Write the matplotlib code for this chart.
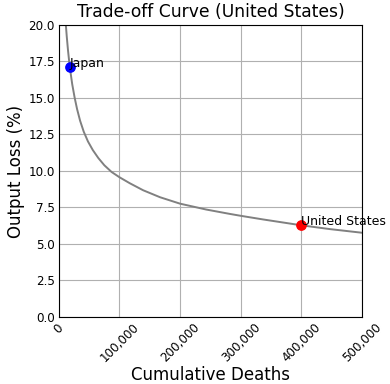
import matplotlib
matplotlib.use("Agg")
import matplotlib.pyplot as plt
import matplotlib.ticker as mticker

# trade-off curve: cumulative deaths vs output loss (%)
curve_deaths = [11500, 13000, 15000, 18000, 22000, 26000, 30000, 35000,
                41000, 48000, 56000, 65000, 75000, 87000, 100000, 117000,
                139000, 167000, 200000, 243000, 282000, 300000, 337000,
                400000, 447000, 500000]
curve_loss = [20.0, 19.2, 18.28, 17.1, 15.94, 15.02, 14.24, 13.44,
              12.69, 12.02, 11.43, 10.89, 10.39, 9.93, 9.57, 9.16,
              8.68, 8.2, 7.76, 7.36, 7.06, 6.93, 6.68,
              6.28, 6.02, 5.77]

countries = ["Japan", "United States"]
country_deaths = [18000, 400000]
country_loss = [17.1, 6.28]
country_colors = ["blue", "red"]

fig = plt.figure(figsize=(3.9, 3.84), dpi=100)
ax = fig.add_axes([0.151, 0.1745, 0.777, 0.7605])

ax.plot(curve_deaths, curve_loss, color="gray", linewidth=1.4)
for name, x, y, c in zip(countries, country_deaths, country_loss, country_colors):
    ax.scatter(x, y, color=c, s=45, zorder=3)
    ax.text(x, y, name, fontsize=9)

ax.set_xlim(0, 500000)
ax.set_ylim(0, 20)
ax.set_xticks(range(0, 500001, 100000))
ax.set_yticks([0, 2.5, 5, 7.5, 10, 12.5, 15, 17.5, 20])
ax.xaxis.set_major_formatter(mticker.FuncFormatter(lambda v, p: f"{int(v):,}"))
ax.yaxis.set_major_formatter(mticker.FormatStrFormatter("%.1f"))
ax.tick_params(axis="both", labelsize=8.6, length=0, pad=3)
plt.setp(ax.get_xticklabels(), rotation=45)
ax.grid(True)

ax.set_title("Trade-off Curve (United States)", fontsize=12.3)
ax.set_xlabel("Cumulative Deaths", fontsize=12, labelpad=1)
ax.set_ylabel("Output Loss (%)", fontsize=12, labelpad=2)

fig.savefig("out.png", dpi=100)
